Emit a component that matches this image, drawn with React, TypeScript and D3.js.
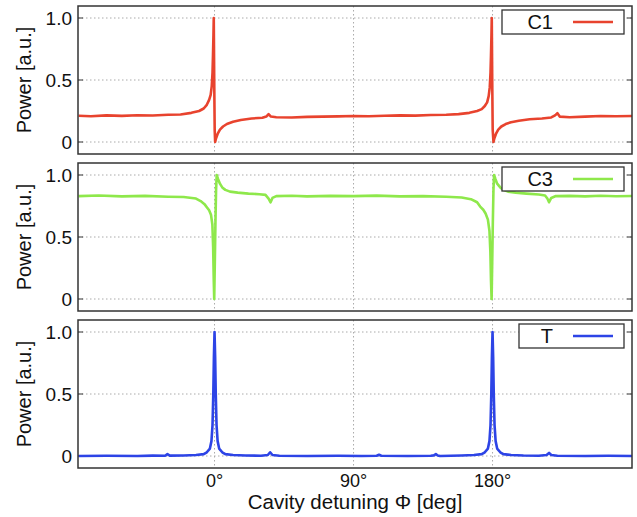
import React from 'react';
import * as d3 from 'd3';

// detuning ticks (deg) and power ticks
const phiTicks = [0, 90, 180];
const phiTickLabels = ['0°', '90°', '180°'];
const powerTicks = [0, 0.5, 1];
const powerTickLabels = ['0', '0.5', '1.0'];

// traces: [phi (deg), power (a.u.)]
const c1Trace: [number, number][] = [
  [-88, 0.212], [-80, 0.208], [-70, 0.215], [-60, 0.211], [-50, 0.216], [-40, 0.214], [-30, 0.22],
  [-22, 0.222], [-15, 0.235], [-10, 0.25], [-7, 0.27], [-5, 0.3], [-3.5, 0.34], [-2.5, 0.38],
  [-1.8, 0.45], [-1.3, 0.56], [-1, 0.7], [-0.7, 0.86], [-0.5, 1.0], [-0.2, 0.5], [0.1, 0.1],
  [0.4, 0.0], [1, 0.03], [2, 0.065], [3.5, 0.1], [5.5, 0.125], [8, 0.145], [12, 0.163], [17, 0.178],
  [24, 0.19], [31, 0.195], [33.5, 0.205], [35, 0.225], [36.5, 0.205], [40, 0.2], [50, 0.198],
  [60, 0.203], [70, 0.205], [80, 0.207], [90, 0.21], [100, 0.208], [110, 0.212], [120, 0.215],
  [130, 0.213], [140, 0.218], [150, 0.22], [158, 0.225], [165, 0.235], [170, 0.25], [173, 0.265],
  [175, 0.29], [176.5, 0.32], [177.5, 0.37], [178.2, 0.44], [178.7, 0.56], [179, 0.7], [179.3, 0.86],
  [179.5, 1.0], [179.8, 0.5], [180.1, 0.1], [180.6, 0.0], [181.2, 0.03], [182.2, 0.065], [183.7, 0.1],
  [185.7, 0.125], [188.5, 0.145], [192, 0.16], [197, 0.172], [204, 0.183], [212, 0.19], [218, 0.198],
  [220.5, 0.215], [222, 0.232], [223.5, 0.205], [230, 0.2], [240, 0.205], [250, 0.21], [260, 0.208],
  [270.3, 0.21],
];

const c3Trace: [number, number][] = [
  [-88, 0.83], [-75, 0.835], [-60, 0.828], [-45, 0.832], [-30, 0.825], [-20, 0.822], [-12, 0.81],
  [-9, 0.79], [-6.5, 0.765], [-5, 0.74], [-3.5, 0.715], [-2.3, 0.68], [-1.4, 0.6], [-0.9, 0.42],
  [-0.5, 0.15], [-0.2, 0.0], [0.2, 0.3], [0.6, 0.62], [1.0, 0.88], [1.4, 1.0], [2.2, 0.97], [3.5, 0.93],
  [5, 0.9], [7, 0.88], [10, 0.866], [15, 0.858], [22, 0.85], [29, 0.845], [33, 0.84], [35, 0.81],
  [36.3, 0.78], [37.5, 0.815], [40, 0.83], [50, 0.833], [60, 0.828], [75, 0.832], [90, 0.83],
  [105, 0.834], [120, 0.828], [135, 0.83], [150, 0.825], [160, 0.818], [166, 0.805], [170, 0.78],
  [172, 0.745], [174, 0.72], [175.5, 0.69], [177, 0.64], [178, 0.55], [178.6, 0.38], [179, 0.15],
  [179.4, 0.0], [179.8, 0.3], [180.2, 0.62], [180.6, 0.88], [181, 1.0], [181.8, 0.97], [183, 0.93],
  [185, 0.9], [187, 0.88], [190, 0.866], [195, 0.858], [202, 0.85], [210, 0.843], [214, 0.835],
  [215.5, 0.81], [216.6, 0.78], [218, 0.815], [221, 0.83], [230, 0.832], [240, 0.828], [250, 0.833],
  [260, 0.829], [270.3, 0.831],
];

const tTrace: [number, number][] = [
  [-88, 0.0], [-70, 0.002], [-50, 0.0], [-40, 0.003], [-32, 0.002], [-30.5, 0.015], [-29, 0.003],
  [-20, 0.004], [-12, 0.008], [-7, 0.015], [-5, 0.03], [-3, 0.06], [-2, 0.12], [-1.3, 0.25],
  [-0.8, 0.5], [-0.4, 0.8], [0, 1.0], [0.4, 0.8], [0.8, 0.5], [1.3, 0.25], [2, 0.12], [3, 0.06],
  [5, 0.03], [7, 0.015], [12, 0.008], [20, 0.004], [30, 0.002], [34.5, 0.008], [36, 0.03],
  [37.5, 0.008], [42, 0.002], [60, 0.0], [80, 0.002], [95, 0.0], [105, 0.002], [106.5, 0.01],
  [108, 0.002], [125, 0.0], [140, 0.002], [142, 0.005], [143.3, 0.015], [144.5, 0.004], [146, 0.0],
  [160, 0.004], [168, 0.008], [173, 0.015], [175, 0.03], [177, 0.06], [178, 0.12], [178.7, 0.25],
  [179.2, 0.5], [179.6, 0.8], [180, 1.0], [180.4, 0.8], [180.8, 0.5], [181.3, 0.25], [182, 0.12],
  [183, 0.06], [185, 0.03], [187, 0.015], [192, 0.008], [200, 0.004], [210, 0.002], [215, 0.008],
  [216.6, 0.025], [218, 0.008], [222, 0.002], [240, 0.0], [255, 0.002], [270.3, 0.0],
];

const panels = [
  { name: 'C1', color: '#e8432e', trace: c1Trace, top: 6, legendLeft: 502 },
  { name: 'C3', color: '#8ee84b', trace: c3Trace, top: 163, legendLeft: 502 },
  { name: 'T', color: '#2d44e6', trace: tTrace, top: 320, legendLeft: 519 },
];

const W = 637;
const H = 517;
const left = 78;
const right = 632;
const panelH = 148;
const font = '"Liberation Sans", Arial, Helvetica, sans-serif';

export default function App() {
  const x = d3.scaleLinear().domain([-88.4, 270.3]).range([left, right]);

  return (
    <svg width={W} height={H} style={{ position: 'absolute', left: 0, top: 0, background: '#fff' }} fontFamily={font}>
      <defs>
        {panels.map((p, i) => (
          <clipPath id={`clip${i}`} key={i}>
            <rect x={left} y={p.top} width={right - left} height={panelH} />
          </clipPath>
        ))}
      </defs>
      {panels.map((p, i) => {
        const y = d3.scaleLinear().domain([0, 1]).range([p.top + 136, p.top + 12]);
        const line = d3.line<[number, number]>()
          .x(d => x(d[0]))
          .y(d => y(d[1]));
        const midY = p.top + panelH / 2;
        return (
          <g key={p.name}>
            {/* dotted grid */}
            {powerTicks.map(t => (
              <line key={'h' + t} x1={left} x2={right} y1={y(t)} y2={y(t)} stroke="#aaa" strokeWidth={1} strokeDasharray="1.5,2.5" />
            ))}
            {phiTicks.map(t => (
              <line key={'v' + t} x1={x(t)} x2={x(t)} y1={p.top} y2={p.top + panelH} stroke="#aaa" strokeWidth={1} strokeDasharray="1.5,2.5" />
            ))}
            {/* inner ticks */}
            {powerTicks.map(t => (
              <g key={'t' + t}>
                <line x1={left} x2={left + 5} y1={y(t)} y2={y(t)} stroke="#333" strokeWidth={1} />
                <line x1={right - 5} x2={right} y1={y(t)} y2={y(t)} stroke="#333" strokeWidth={1} />
              </g>
            ))}
            <path d={line(p.trace) || ''} fill="none" stroke={p.color} strokeWidth={2.6} strokeLinejoin="round" clipPath={`url(#clip${i})`} />
            <rect x={left} y={p.top} width={right - left} height={panelH} fill="none" stroke="#333" strokeWidth={1.5} />
            {powerTicks.map((t, j) => (
              <text key={'l' + t} x={72} y={y(t)} dy="0.36em" textAnchor="end" fontSize={19} fill="#111">{powerTickLabels[j]}</text>
            ))}
            <text transform={`translate(24,${midY}) rotate(-90)`} textAnchor="middle" dy="0.36em" fontSize={20} fill="#111">Power [a.u.]</text>
            {/* legend */}
            <rect x={p.legendLeft} y={p.top + 4} width={624 - p.legendLeft} height={24} fill="#fff" stroke="#333" strokeWidth={1.3} />
            <text x={553} y={p.top + 16} dy="0.36em" textAnchor="end" fontSize={20} fill="#111">{p.name}</text>
            <line x1={573} x2={613} y1={p.top + 16} y2={p.top + 16} stroke={p.color} strokeWidth={2.6} />
          </g>
        );
      })}
      {phiTicks.map((t, j) => (
        <text key={t} x={x(t)} y={481} dy="0.36em" textAnchor="middle" fontSize={18} fill="#111">{phiTickLabels[j]}</text>
      ))}
      <text x={(left + right) / 2} y={509} textAnchor="middle" fontSize={20.5} fill="#111">Cavity detuning Φ [deg]</text>
    </svg>
  );
}
